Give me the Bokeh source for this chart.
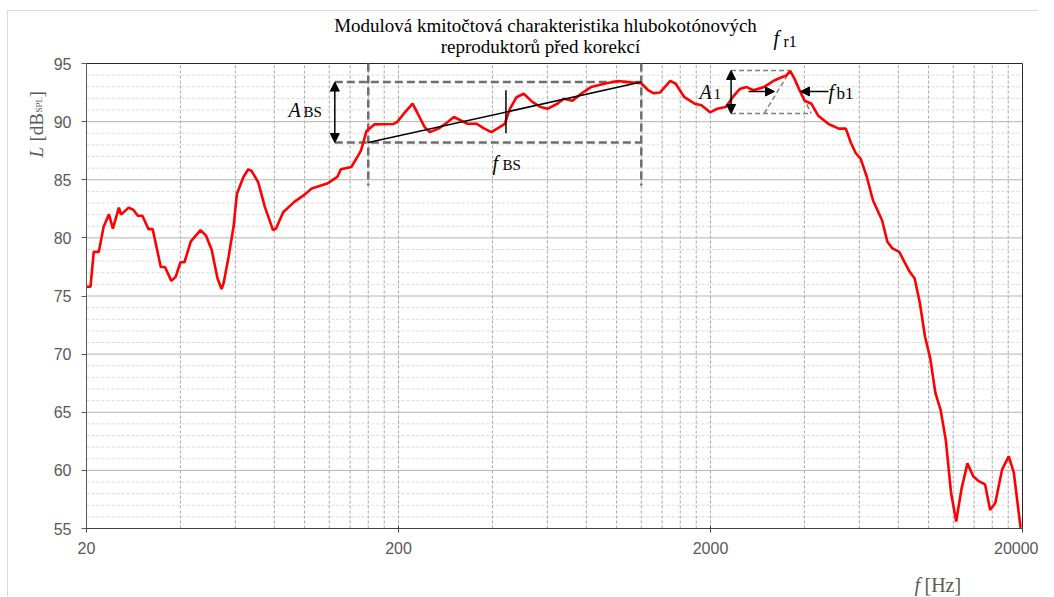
import math
from bokeh.plotting import figure
from bokeh.models import FixedTicker, Label, Arrow, NormalHead, BasicTickFormatter
from bokeh.embed import file_html
from bokeh.resources import INLINE

# ---------------- data ----------------
freq = [20, 20.6, 21.1, 21.9, 22.7, 23.6, 24.3, 25.4, 25.8, 27.3, 28.3, 29.2, 30.2, 31.6, 32.6,
        34.6, 35.7, 37.4, 38.6, 40.0, 41.2, 43.2, 46.4, 48.3, 50.4, 52.6, 54.2, 55.0, 57.1, 59.2,
        60.7, 63.7, 66.0, 67.6, 71.0, 74.6, 79.2, 81.0, 85.4, 92.7, 99.8, 105.4, 118.2, 127.3,
        130.7, 141.2, 148.6, 151.6, 158, 167.4, 192.8, 197.8, 208, 221.9, 230.6, 242.6, 252,
        268.5, 282.5, 301, 317, 333, 355, 377, 397, 422, 438, 455, 478, 504, 537, 571, 600, 646,
        678, 722, 769, 828, 914, 1009, 1087, 1200, 1262, 1310, 1377, 1486, 1547, 1649, 1780,
        1871, 1994, 2099, 2240, 2356, 2480, 2610, 2747, 2966, 3200, 3368, 3500, 3605, 3716,
        3860, 4006, 4211, 4430, 4780, 5152, 5430, 5630, 5840, 6060, 6330, 6632, 7098, 7378,
        7657, 8052, 8360, 8686, 9025, 9377, 9743, 10123, 10520, 10930, 11356, 11800, 12260,
        12740, 13320, 13900, 14430, 15170, 15750, 16360, 17200, 18070, 18760, 19720]
level = [75.8, 75.8, 78.8, 78.8, 80.95, 82.04, 80.8, 82.6, 82.0, 82.6, 82.4, 81.9, 81.9, 80.75,
         80.75, 77.5, 77.5, 76.3, 76.65, 77.9, 77.9, 79.7, 80.67, 80.2, 78.95, 76.5, 75.6, 76.1,
         78.4, 80.95, 83.8, 85.24, 85.9, 85.76, 84.8, 82.67, 80.67, 80.8, 82.2, 83.1, 83.7, 84.25,
         84.67, 85.24, 85.9, 86.1, 87.1, 87.5, 89.2, 89.76, 89.8, 89.96, 90.68, 91.54, 90.68,
         89.53, 89.1, 89.4, 89.8, 90.4, 90.1, 89.82, 89.82, 89.4, 89.1, 89.53, 89.8, 91.1, 92.1,
         92.4, 91.7, 91.25, 91.1, 91.54, 91.97, 91.8, 92.4, 92.97, 93.26, 93.5, 93.4, 93.3, 92.7,
         92.45, 92.5, 93.5, 93.26, 92.1, 91.54, 91.4, 90.8, 91.1, 91.25, 92.1, 92.8, 92.97, 92.7,
         92.97, 93.54, 93.8, 93.97, 94.34, 93.7, 92.7, 91.8, 91.54, 90.5, 89.8, 89.4, 89.4, 88.2,
         87.3, 86.8, 85.3, 83.24, 81.5, 79.66, 79.1, 78.8, 77.95, 77.1, 76.5, 74.4, 71.5, 69.65,
         66.65, 65.2, 62.6, 58.1, 55.6, 58.35, 60.6, 59.5, 59.1, 58.8, 56.6, 57.2, 60.06, 61.2,
         59.8, 55.05]

x_tick_values = [20, 200, 2000, 20000]
x_grid_values = ([20 * k for k in range(2, 10)] + [200 * k for k in range(1, 10)]
                 + [2000 * k for k in range(1, 10)])
y_tick_values = [55, 60, 65, 70, 75, 80, 85, 90, 95]
y_minor_values = [v for v in range(56, 95) if v % 5 != 0]

title_lines = ["Modulová kmitočtová charakteristika hlubokotónových", "reproduktorů před korekcí"]

# annotation values (Hz, dB)
bs_f_lo, bs_f_left, bs_f_right = 125, 160, 1200
bs_l_lo, bs_l_hi = 88.2, 93.4
fbs_f = 442
r1_f_left, r1_f_a, r1_f_peak, r1_f_b = 2328, 2972, 3605, 4206
r1_l_lo, r1_l_hi = 90.7, 94.4

# ---------------- geometry ----------------
# The frame covers the whole canvas so that texts outside the axes box are not clipped;
# the axes are fixed at the data box edges.
W, H = 1038, 596
ML, MT, FW, FH = 86, 63, 936, 465          # data box in canvas pixels
XMIN, XMAX, YMIN, YMAX = 20, 20000, 55, 95
PX_DEC = FW / math.log10(XMAX / XMIN)
PX_DB = FH / (YMAX - YMIN)
x_range = (XMIN * 10 ** (-ML / PX_DEC), XMAX * 10 ** ((W - ML - FW) / PX_DEC))
y_range = (YMIN - (H - MT - FH) / PX_DB, YMAX + MT / PX_DB)

p = figure(width=W, height=H, x_axis_type="log", x_range=x_range, y_range=y_range,
           output_backend="svg", toolbar_location=None, min_border=0)
p.background_fill_color = "white"
p.border_fill_color = "white"
p.outline_line_color = None
p.xgrid.visible = False
p.ygrid.visible = False

def fx(px):
    return XMIN * 10 ** ((px - ML) / PX_DEC)

def fy(py):
    return YMAX - (py - MT) / PX_DB

# axes (library axes pinned to the data box)
p.xaxis.fixed_location = YMIN
p.yaxis.fixed_location = XMIN
p.xaxis.bounds = (XMIN, XMAX)
p.yaxis.bounds = (YMIN, YMAX)
p.xaxis.ticker = FixedTicker(ticks=x_tick_values)
p.xaxis.formatter = BasicTickFormatter(use_scientific=False)
p.xaxis.minor_tick_line_color = None
p.xaxis.major_tick_in = 3
p.xaxis.major_tick_out = 4
p.xaxis.major_label_standoff = 9
p.yaxis.ticker = FixedTicker(ticks=y_tick_values)
p.yaxis.minor_tick_line_color = None
p.yaxis.major_tick_in = 0
p.yaxis.major_tick_out = 5
p.yaxis.major_label_standoff = 10
for ax in (p.xaxis, p.yaxis):
    ax.major_label_text_font = "Liberation Sans"
    ax.major_label_text_font_size = "16px"
    ax.major_label_text_color = "#595959"
p.xaxis.axis_line_color = "#404040"
p.xaxis.major_tick_line_color = "#404040"
p.yaxis.axis_line_color = "#595959"
p.yaxis.major_tick_line_color = "#595959"

# outer chart-area border (light)
p.line([fx(7), fx(7)], [fy(10), y_range[0]], line_color="#d9d9d9", line_width=1)
p.line([fx(7), x_range[1]], [fy(10), fy(10)], line_color="#d9d9d9", line_width=1)

# grid lines
p.segment(x0=[XMIN] * len(y_minor_values), x1=[XMAX] * len(y_minor_values),
          y0=y_minor_values, y1=y_minor_values, line_color="#d9d9d9", line_dash="3 2",
          line_width=1)
p.segment(x0=x_grid_values, x1=x_grid_values, y0=[YMIN] * len(x_grid_values),
          y1=[YMAX] * len(x_grid_values), line_color="#a6a6a6", line_dash="3 2", line_width=1)
ymaj = y_tick_values[1:-1]
p.segment(x0=[XMIN] * len(ymaj), x1=[XMAX] * len(ymaj), y0=ymaj, y1=ymaj,
          line_color="#b3b3b3", line_width=1)
# box top / right edge
p.line([XMIN, XMAX, XMAX], [YMAX, YMAX, YMIN], line_color="#262626", line_width=1)

# ---------------- annotations under the curve ----------------
DASH = "#6e6e6e"
p.line([bs_f_lo, bs_f_right], [bs_l_hi, bs_l_hi], line_color=DASH, line_width=2.5, line_dash="8 4")
p.line([bs_f_lo, bs_f_right], [bs_l_lo, bs_l_lo], line_color=DASH, line_width=2.5, line_dash="8 4")
p.line([bs_f_left, bs_f_left], [YMAX, 84.5], line_color=DASH, line_width=2.5, line_dash="8 4")
p.line([bs_f_right, bs_f_right], [YMAX, 84.5], line_color=DASH, line_width=2.5, line_dash="8 4")

SD = "#808080"
p.line([r1_f_left, r1_f_peak], [r1_l_hi, r1_l_hi], line_color=SD, line_width=1.5, line_dash="5 3")
p.line([r1_f_left, r1_f_b], [r1_l_lo, r1_l_lo], line_color=SD, line_width=1.5, line_dash="5 3")
p.line([r1_f_a, r1_f_peak, r1_f_b], [r1_l_lo, r1_l_hi, r1_l_lo], line_color=SD, line_width=1.5,
       line_dash="5 3")

# ---------------- curve ----------------
p.line(freq, level, line_color="#ff0000", line_width=2.6)

# trend line + f_BS marker
p.line([bs_f_left, bs_f_right], [bs_l_lo, bs_l_hi], line_color="black", line_width=1.5)
p.line([fbs_f, fbs_f], [89.0, 92.7], line_color="black", line_width=1.5)

def head():
    return NormalHead(size=9, fill_color="black", line_color="black", line_width=1)

p.add_layout(Arrow(start=head(), end=head(), x_start=bs_f_lo, y_start=bs_l_lo, x_end=bs_f_lo,
                   y_end=bs_l_hi, line_color="black", line_width=1.5))
p.add_layout(Arrow(start=head(), end=head(), x_start=r1_f_left, y_start=r1_l_lo, x_end=r1_f_left,
                   y_end=r1_l_hi, line_color="black", line_width=1.5))
p.add_layout(Arrow(end=head(), x_start=fx(748), y_start=fy(91), x_end=fx(774), y_end=fy(91),
                   line_color="black", line_width=1.5))
p.add_layout(Arrow(end=head(), x_start=fx(828), y_start=fy(91), x_end=fx(800), y_end=fy(91),
                   line_color="black", line_width=1.5))

# ---------------- texts ----------------
SHIFT = 6   # measured offset of rendered baseline vs. requested one

def lab(px, py, text, size, italic=False, align="left", color="black"):
    p.add_layout(Label(x=fx(px), y=fy(py - SHIFT), text=text, text_font="Liberation Serif",
                       text_font_size=f"{size}px",
                       text_font_style="italic" if italic else "normal",
                       text_align=align, text_baseline="alphabetic", text_color=color))

def vlab(px, py, text, size, italic=False, color="black"):
    p.add_layout(Label(x=fx(px - SHIFT), y=fy(py), text=text, text_font="Liberation Serif",
                       text_font_size=f"{size}px", angle=math.pi / 2,
                       text_font_style="italic" if italic else "normal",
                       text_align="left", text_baseline="alphabetic", text_color=color))

lab(545, 31, title_lines[0], 19, align="center")
lab(540, 52, title_lines[1], 19, align="center")
lab(773, 43, "f", 20, italic=True)
lab(783, 47, "r1", 16)

lab(288, 115, "A", 20, italic=True)
lab(303, 117, "BS", 15)
lab(492, 168, "f", 20, italic=True)
lab(502, 170, "BS", 15)
lab(699, 97, "A", 20, italic=True)
lab(713, 99, "1", 15)
lab(828, 97, "f", 20, italic=True)
lab(836, 99, "b1", 17)

# axis titles
GR = "#595959"
lab(914, 590, "f", 20, italic=True, color=GR)
lab(924, 590, "[Hz]", 20, color=GR)
vlab(42, 157, "L", 19, italic=True, color=GR)
vlab(42, 141, "[dB", 19, color=GR)
vlab(44, 112, "SPL", 9, color=GR)
vlab(42, 97, "]", 19, color=GR)

open("out.html", "w").write(file_html(p, INLINE))
